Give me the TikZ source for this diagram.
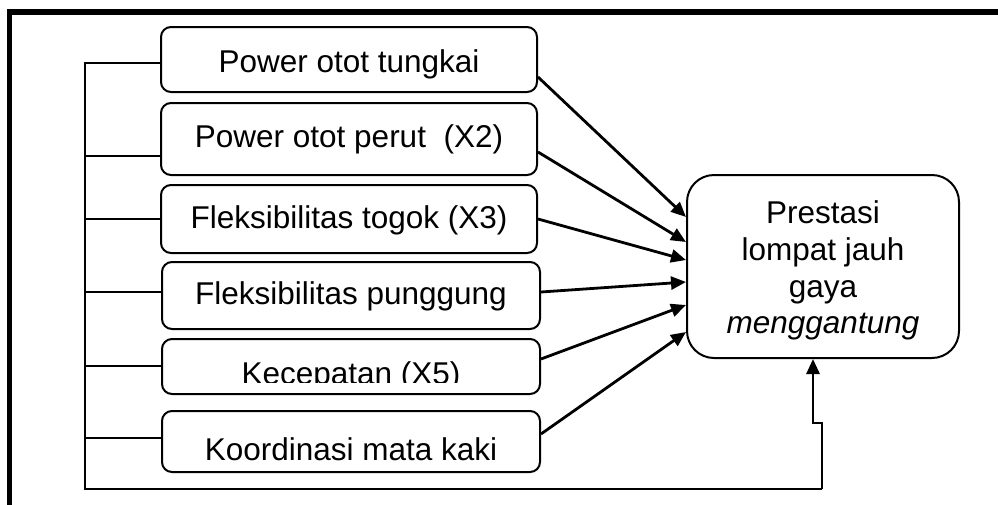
\documentclass[tikz,border=0pt]{standalone}
\usepackage{fontspec}
\setmainfont{Liberation Sans}
\usetikzlibrary{arrows.meta,calc}
\begin{document}
\begin{tikzpicture}[x=1pt,y=-1pt,
  factor/.style={draw, line width=2pt, rounded corners=10pt, inner sep=0pt},
  outcome/.style={draw, line width=2pt, rounded corners=27pt, inner sep=0pt,
    minimum width=272pt, minimum height=183pt},
  boxtext/.style={anchor=base, inner sep=0pt, font=\fontsize{31.5}{37}\selectfont},
  bus/.style={line width=1.9pt},
  link/.style={line width=2.8pt, -{Triangle[length=15pt,width=13pt]}},
]
\useasboundingbox (0,0) rectangle (998,504);
% outer frame
\draw[line width=5.5pt] (9.5,12) rectangle (1012,520);

% factor boxes
\node[factor, minimum width=376pt, minimum height=65pt] (b1) at (349,59.5) {};
\node[factor, minimum width=376pt, minimum height=72pt] (b2) at (349,139) {};
\node[factor, minimum width=376pt, minimum height=68pt] (b3) at (349,219) {};
\node[factor, minimum width=378pt, minimum height=67pt] (b4) at (351,295.5) {};
\node[factor, minimum width=378pt, minimum height=55pt] (b5) at (351,366.5) {};
\node[factor, minimum width=378pt, minimum height=61pt] (b6) at (351,441.5) {};

\node[boxtext] (t1) at (b1 |- 0,72) {Power otot tungkai};
\node[boxtext] (t2) at (b2 |- 0,147) {Power otot perut \ (X2)};
\node[boxtext] (t3) at (b3 |- 0,228) {Fleksibilitas togok (X3)};
\node[boxtext] (t4) at (b4 |- 0,304) {Fleksibilitas punggung};
\begin{scope}
  \clip (b5.north west) rectangle (b5.east |- 0,382);
  \node[boxtext] (t5) at (b5 |- 0,384.5) {Kecepatan (X5)};
\end{scope}
\node[boxtext] (t6) at (b6 |- 0,460) {Koordinasi mata kaki};

% outcome box
\node[outcome] (P) at (823,266.5) {};
\node[boxtext] (p1) at (P |- 0,223) {Prestasi};
\node[boxtext] (p2) at (P |- 0,260) {lompat jauh};
\node[boxtext] (p3) at (P |- 0,297) {gaya};
\node[boxtext] (p4) at (P |- 0,333) {\itshape menggantung};

% arrows into the outcome
\draw[link] ([yshift=-17.5pt]b1.east) -- ([yshift=49.5pt]P.west);
\draw[link] ([yshift=-13pt]b2.east) -- ([yshift=24.5pt]P.west);
\draw[link] (b3.east) -- ([yshift=6.5pt]P.west);
\draw[link] ([yshift=3.5pt]b4.east) -- ([yshift=-15.5pt]P.west);
\draw[link] ([yshift=7.5pt]b5.east) -- ([yshift=-38.5pt]P.west);
\draw[link] ([yshift=7.5pt]b6.east) -- ([yshift=-65.5pt]P.west);

% common bus on the left
\coordinate (bustop) at (85,63);
\coordinate (busbot) at (85,489);
\coordinate (turn) at (822,489);
\coordinate (jog) at (822,423);
\draw[bus] ([yshift=-3.5pt]b1.west) -- (bustop) -- (busbot) -- (turn);
\draw[bus] (b2.west |- 0,156) -- (bustop |- 0,156);
\draw[bus] (b3.west |- 0,219) -- (bustop |- 0,219);
\draw[bus] (b4.west |- 0,292) -- (bustop |- 0,292);
\draw[bus] (b5.west |- 0,366) -- (bustop |- 0,366);
\draw[bus] (b6.west |- 0,438) -- (bustop |- 0,438);
\draw[link] (turn) -- (jog) -- (813,423) -- ([xshift=-10pt]P.south);
\end{tikzpicture}
\end{document}
